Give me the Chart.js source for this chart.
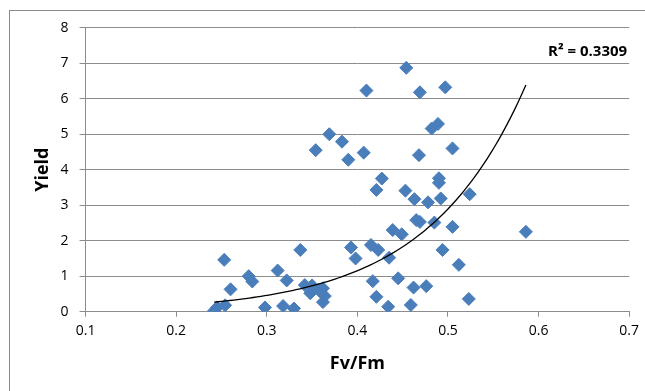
<!DOCTYPE html>
<html>
<head>
<meta charset="utf-8">
<script src="https://cdn.jsdelivr.net/npm/chart.js@4"></script>
<style>
  html, body { margin: 0; padding: 0; background: #fff; }
  #chart { display: block; }
</style>
</head>
<body>
<canvas id="chart" width="645" height="391"></canvas>
<script>
// Fv/Fm readings and the matching yield for each plant
const fvfm = [
    0.242, 0.245, 0.254, 0.253, 0.260, 0.280, 0.284, 0.298, 0.312, 0.318,
    0.322, 0.330, 0.337, 0.342, 0.348, 0.350, 0.357, 0.362, 0.364, 0.362,
    0.354, 0.369, 0.383, 0.390, 0.393, 0.398, 0.407, 0.410, 0.415, 0.417,
    0.421, 0.421, 0.423, 0.427, 0.435, 0.434, 0.439, 0.445, 0.449, 0.453,
    0.454, 0.459, 0.462, 0.463, 0.465, 0.469, 0.468, 0.469, 0.476, 0.478,
    0.482, 0.485, 0.489, 0.490, 0.490, 0.492, 0.494, 0.497, 0.505, 0.505,
    0.512, 0.523, 0.524, 0.586
];
const yieldValues = [
    0.03, 0.12, 0.18, 1.46, 0.63, 1.00, 0.85, 0.12, 1.16, 0.16,
    0.88, 0.09, 1.74, 0.75, 0.52, 0.74, 0.62, 0.66, 0.44, 0.27,
    4.55, 5.00, 4.79, 4.28, 1.81, 1.50, 4.48, 6.23, 1.88, 0.86,
    3.43, 0.42, 1.74, 3.75, 1.52, 0.14, 2.30, 0.94, 2.18, 3.41,
    6.87, 0.19, 0.68, 3.17, 2.58, 2.53, 4.41, 6.18, 0.72, 3.08,
    5.16, 2.51, 5.29, 3.76, 3.63, 3.19, 1.74, 6.32, 4.60, 2.39,
    1.32, 0.36, 3.31, 2.25
];

// exponential trendline y = a * e^(b * x)
const trendA = 0.0291;
const trendB = 9.2;
const rSquared = '0.3309';

const xTicks = [0.1, 0.2, 0.3, 0.4, 0.5, 0.6, 0.7];
const yTicks = [0, 1, 2, 3, 4, 5, 6, 7, 8];

const points = fvfm.map((x, i) => ({ x: x, y: yieldValues[i] }));

const xMin = Math.min(...fvfm);
const xMax = Math.max(...fvfm);
const trend = [];
for (let i = 0; i <= 80; i++) {
    const x = xMin + (xMax - xMin) * i / 80;
    trend.push({ x: x, y: trendA * Math.exp(trendB * x) });
}

const gridGrey = '#8c8c8c';
const blue = '#4a7ebb';

// grey frame round the whole chart
const frame = {
    id: 'frame',
    beforeDraw(chart) {
        const c = chart.ctx;
        c.save();
        c.fillStyle = '#fff';
        c.fillRect(0, 0, chart.width, chart.height);
        c.strokeStyle = '#8a8a8a';
        c.lineWidth = 1;
        c.strokeRect(9.5, 10.5, chart.width + 20, chart.height + 20);
        c.restore();
    }
};

// R² label for the trendline
const rLabel = {
    id: 'rLabel',
    afterDraw(chart) {
        const c = chart.ctx;
        c.save();
        c.font = 'bold 15px "Open Sans"';
        c.fillStyle = '#000';
        c.textAlign = 'right';
        c.textBaseline = 'middle';
        c.fillText('R\u00b2 = ' + rSquared, chart.chartArea.right - 2, 52);
        c.restore();
    }
};

Chart.defaults.font.family = '"Open Sans", sans-serif';
Chart.defaults.color = '#000';

new Chart(document.getElementById('chart'), {
    type: 'scatter',
    data: {
        datasets: [
            {
                type: 'line',
                data: trend,
                borderColor: '#000',
                borderWidth: 1.3,
                pointRadius: 0,
                fill: false,
                tension: 0,
                order: 0
            },
            {
                data: points,
                pointStyle: 'rectRot',
                pointRadius: 6.5,
                backgroundColor: blue,
                borderColor: blue,
                borderWidth: 1,
                order: 1
            }
        ]
    },
    options: {
        responsive: false,
        animation: false,
        layout: { padding: { top: 27.7, right: 13.6, left: 0, bottom: 0 } },
        plugins: {
            legend: { display: false },
            tooltip: { enabled: false }
        },
        scales: {
            x: {
                type: 'linear',
                min: xTicks[0],
                max: xTicks[xTicks.length - 1],
                afterBuildTicks: s => { s.ticks = xTicks.map(v => ({ value: v })); },
                afterFit: s => { s.height = 79.3; },
                ticks: {
                    padding: 6,
                    font: { size: 14 },
                    callback: v => v.toFixed(1)
                },
                grid: {
                    drawOnChartArea: false,
                    drawTicks: true,
                    tickLength: 5,
                    color: gridGrey
                },
                border: { display: true, color: gridGrey },
                title: {
                    display: true,
                    text: 'Fv/Fm',
                    font: { size: 18, weight: 'bold' },
                    padding: { top: 0, bottom: 16 }
                }
            },
            y: {
                min: yTicks[0],
                max: yTicks[yTicks.length - 1],
                afterBuildTicks: s => { s.ticks = yTicks.map(v => ({ value: v })); },
                afterFit: s => { s.width = 85.6; },
                ticks: {
                    padding: 11,
                    font: { size: 14 }
                },
                grid: {
                    color: gridGrey,
                    tickLength: 6
                },
                border: { display: true, color: gridGrey },
                title: {
                    display: true,
                    text: 'Yield',
                    font: { size: 18, weight: 'bold' },
                    padding: { top: 32, bottom: 0 }
                }
            }
        }
    },
    plugins: [frame, rLabel]
});
</script>
</body>
</html>
